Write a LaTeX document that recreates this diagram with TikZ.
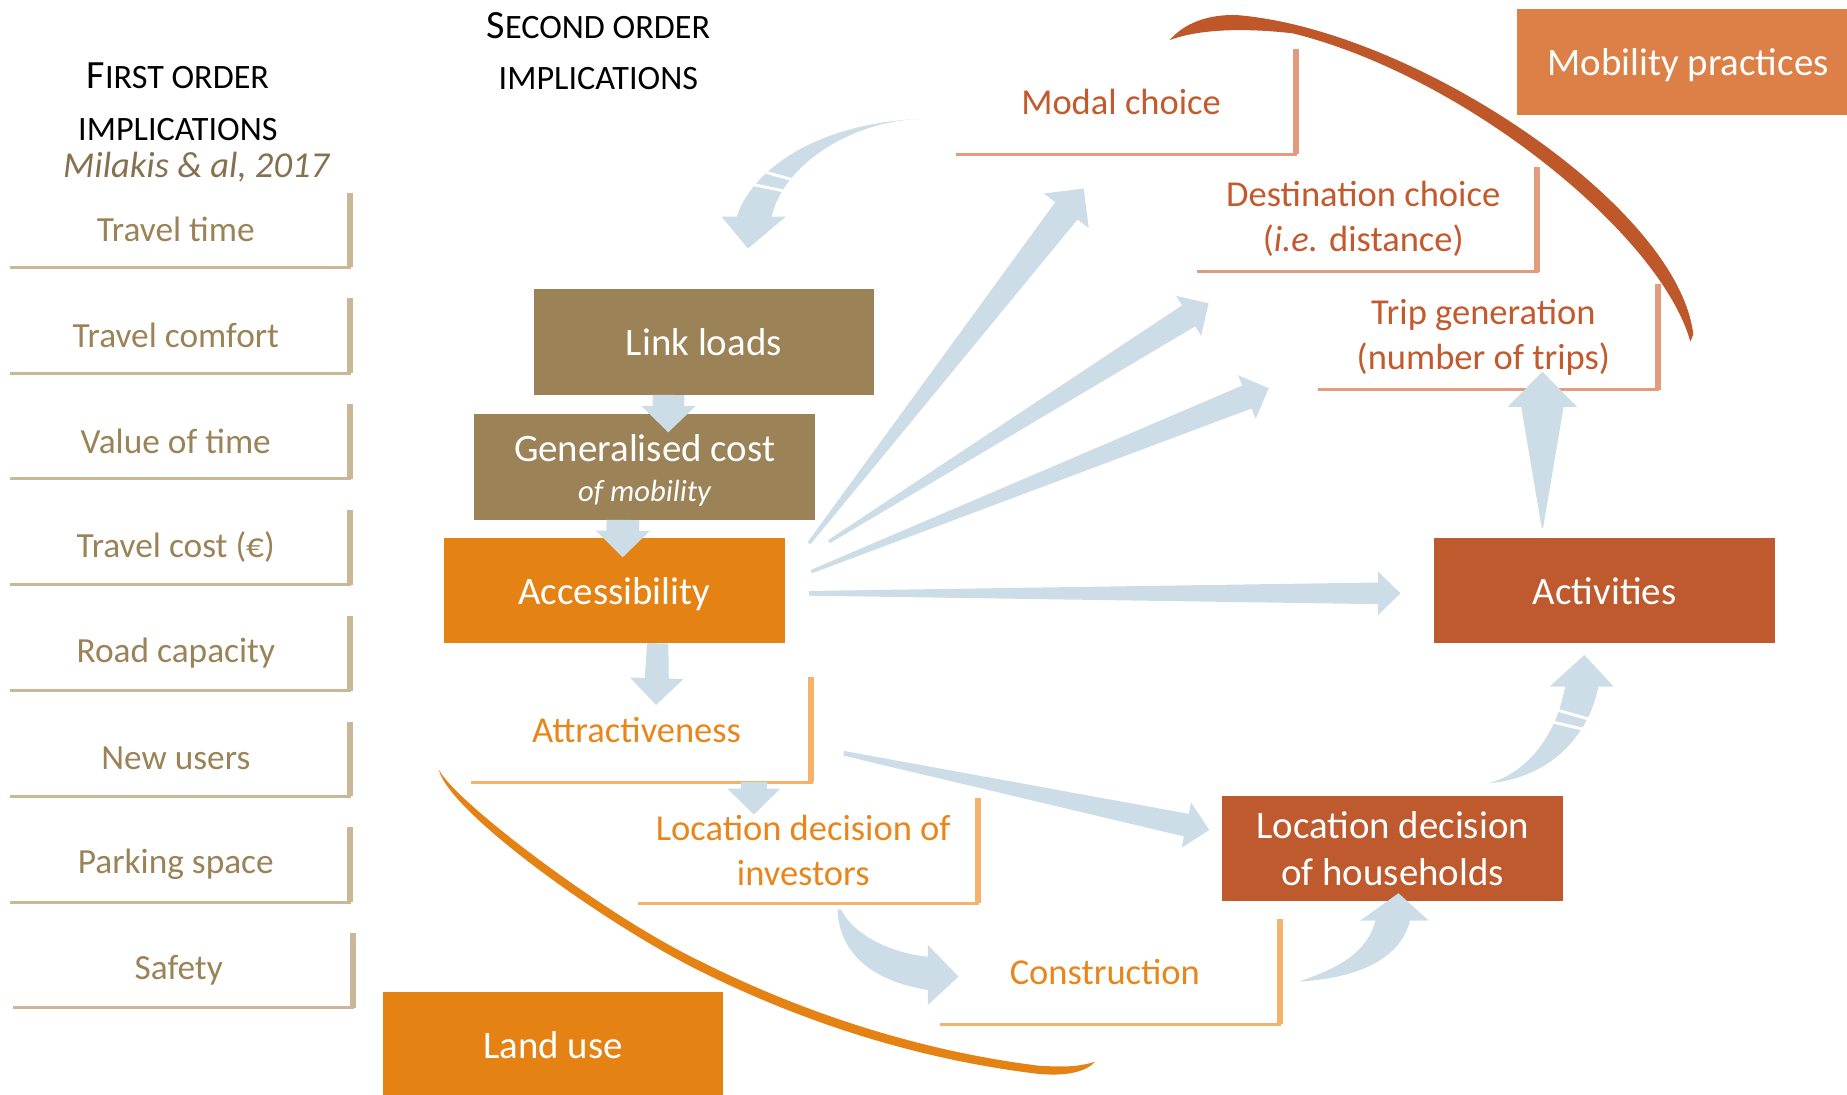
\documentclass[tikz,border=0pt]{standalone}
\usepackage{fontspec}
\setmainfont{Carlito}
\usetikzlibrary{calc}
\definecolor{lefttext}{HTML}{9B8358}
\definecolor{leftline}{HTML}{C9B797}
\definecolor{milcol}{HTML}{85704F}
\definecolor{brownbox}{HTML}{9C8257}
\definecolor{orangebox}{HTML}{E48214}
\definecolor{rustbox}{HTML}{BE5A2E}
\definecolor{mobbox}{HTML}{DD8047}
\definecolor{landtext}{HTML}{E8861C}
\definecolor{landline}{HTML}{F5B26B}
\definecolor{mobtext}{HTML}{C25A2D}
\definecolor{mobline}{HTML}{E29B7C}
\definecolor{arrowblue}{HTML}{CCDDE8}
\definecolor{toparccol}{HTML}{BE582B}
\definecolor{botarccol}{HTML}{E48214}
\newcommand\headsc[2]{{\fontsize{34}{34}\selectfont #1}{\fontsize{29}{29}\selectfont #2}}
\newcommand\openlines[2]{%
  \draw[rline,draw=#2] (#1.north east) -- (#1.south east);
  \draw[bline,draw=#2] (#1.south west) -- (#1.south east);}
\newcommand\tarrow[6]{%
  \coordinate (tmpH) at ($(#2)!#6!(#1)$);
  \fill[barrow] ($(#1)!#3!90:(#2)$) -- ($(tmpH)!#4!90:(#2)$) -- ($(tmpH)!#5!90:(#2)$) -- (#2)
    -- ($(tmpH)!#5!-90:(#2)$) -- ($(tmpH)!#4!-90:(#2)$) -- ($(#1)!#3!-90:(#2)$) -- cycle;}
\begin{document}
\begin{tikzpicture}[x=1pt,y=-1pt,
  leftbox/.style={rectangle,minimum width=287pt,minimum height=63pt,inner sep=0pt},
  lefttxt/.style={text=lefttext,font=\fontsize{30}{36}\selectfont,inner sep=0pt},
  openbox/.style={rectangle,minimum width=287pt,minimum height=89pt,inner sep=0pt},
  landtxt/.style={align=center,text=landtext,font=\fontsize{31}{38}\selectfont,inner sep=0pt},
  mobtxt/.style={align=center,text=mobtext,font=\fontsize{31}{38}\selectfont,inner sep=0pt},
  fillbox/.style={rectangle,minimum width=289pt,minimum height=90pt,inner sep=0pt,align=center,text=white,font=\fontsize{33}{40}\selectfont},
  rline/.style={line width=5pt},
  bline/.style={line width=2.5pt,line cap=rect},
  barrow/.style={fill=arrowblue},
  stripe/.style={draw=white,line width=2.5pt}
]
\useasboundingbox (0,0) rectangle (1568,929);

% ---------- headings
\node[anchor=base,inner sep=0pt] (h1a) at (151,75) {\headsc{F}{IRST ORDER}};
\node[anchor=base,inner sep=0pt] (h1b) at (151,119) {\headsc{}{IMPLICATIONS}};
\node[anchor=base,inner sep=0pt,text=milcol,font=\fontsize{31}{31}\selectfont\itshape] (mil) at (166.5,150.5) {Milakis \& al, 2017};
\node[anchor=base,inner sep=0pt] (h2a) at (508,32.5) {\headsc{S}{ECOND ORDER}};
\node[anchor=base,inner sep=0pt] (h2b) at (508,76.4) {\headsc{}{IMPLICATIONS}};

% ---------- first order boxes
\foreach \i/\t/\dx in {1/Travel time/0,2/Travel comfort/0,3/Value of time/0,4/Travel cost (€)/0,
                       5/Road capacity/0,6/New users/0,7/Parking space/0,8/Safety/2.5}{
  \node[leftbox] (fb\i) at (153.25+\dx,195.3+89.8*\i-89.8) {};
  \node[lefttxt] (ft\i) at ([xshift=-4pt,yshift=0.5pt]fb\i.center) {\t};
  \openlines{fb\i}{leftline}
}

% ---------- open boxes (mobility side)
\node[openbox] (modalbox) at (956.25,86.45) {};
\node[mobtxt] (modal) at ([xshift=-4.5pt]modalbox.center) {Modal choice};
\openlines{modalbox}{mobline}
\node[openbox] (destbox) at (1161.3,186.05) {};
\node[mobtxt] (dest) at ([xshift=-4pt]destbox.center) {Destination choice\\(\textit{i.e.} distance)};
\openlines{destbox}{mobline}
\node[openbox] (tripbox) at (1263.8,286.1) {};
\node[mobtxt] (trip) at ([xshift=-4.5pt]tripbox.center) {Trip generation\\(number of trips)};
\openlines{tripbox}{mobline}

% ---------- open boxes (land use side)
\node[openbox] (attrbox) at (544.85,619.55) {};
\node[landtxt] (attr) at ([xshift=-4.5pt]attrbox.center) {Attractiveness};
\openlines{attrbox}{landline}
\node[openbox] (invbox) at (686.45,722.25) {};
\node[landtxt] (inv) at ([xshift=-4.5pt]invbox.center) {Location decision of\\investors};
\openlines{invbox}{landline}
\node[openbox] (conbox) at (942.95,824.85) {};
\node[landtxt] (con) at ([xshift=-5pt]conbox.center) {Construction};
\openlines{conbox}{landline}

% ---------- filled boxes
\node[fillbox,fill=brownbox] (link) at (597.5,290.5) {Link loads};
\node[fillbox,fill=brownbox] (genbox) at (547.15,396.4) {};
\node[align=center,text=white,inner sep=0pt,font=\fontsize{33}{34}\selectfont] (gen) at ([yshift=-3pt]genbox.center) {Generalised cost\\{\fontsize{26}{30}\selectfont\itshape of mobility}};
\node[fillbox,fill=orangebox,minimum height=89pt,text depth=0pt] (acc) at (521.5,501.5) {Accessibility};
\node[fillbox,fill=orangebox] (land) at (469.5,887) {Land use};
\node[fillbox,fill=rustbox,minimum height=89pt] (house) at (1182.3,720.5) {Location decision\\of households};
\node[fillbox,fill=rustbox,minimum height=89pt] (activ) at (1362.2,501.5) {Activities};
\node[fillbox,fill=mobbox,minimum width=290pt,text depth=0pt] (mob) at (1433,52.6) {Mobility practices};

% ---------- arrow end points
\coordinate (fa0) at (686.8,461.2);  \coordinate (fa1) at (920,160);
\coordinate (fb0) at (703.8,459.8);  \coordinate (fb1) at (1026,257.5);
\coordinate (fc0) at (688.7,485.3);  \coordinate (fc1) at (1077.1,329.6);
\coordinate (fd0) at (686.8,503.7);  \coordinate (fd1) at (1188.9,503.7);
\coordinate (g0) at (716.3,639.5);   \coordinate (g1) at (1026.7,704.6);
\coordinate (h0) at (1309.4,448.5);  \coordinate (h1) at (1309.4,315.5);
\coordinate (d10) at (567.5,335.3);  \coordinate (d11) at (567.3,367);
\coordinate (d20) at (528.8,441.4);  \coordinate (d21) at (528.6,473.1);
\coordinate (d30) at (558.4,546.1);  \coordinate (d31) at (556.9,598.5);
\coordinate (d40) at (640,664);      \coordinate (d41) at (640,691.5);

% ---------- straight block arrows
\tarrow{fa0}{fa1}{1.5pt}{12pt}{24pt}{24pt}
\tarrow{fb0}{fb1}{1.5pt}{10.5pt}{20pt}{20pt}
\tarrow{fc0}{fc1}{1.5pt}{10.5pt}{20pt}{20pt}
\tarrow{fd0}{fd1}{2pt}{9.2pt}{18.5pt}{19pt}
\tarrow{g0}{g1}{2pt}{9.8pt}{19.6pt}{20pt}
\tarrow{h0}{h1}{0.5pt}{18pt}{29.6pt}{30pt}
\tarrow{d10}{d11}{13.5pt}{13.5pt}{23pt}{22.3pt}
\tarrow{d20}{d21}{13.9pt}{13.9pt}{23pt}{22.6pt}
\tarrow{d30}{d31}{9pt}{10.2pt}{22.7pt}{22.7pt}
\tarrow{d40}{d41}{11pt}{11pt}{22.4pt}{22pt}

% ---------- curved arrows
\coordinate (c5t) at (781,101);  \coordinate (c5h) at (635,211);
\fill[barrow] (c5t) .. controls (700,104) and (640,140) .. (625.4,184) -- (612.6,184) -- (c5h) -- (667,184) -- (655,184)
   .. controls (665,140) and (722,103) .. (c5t) -- cycle;
\draw[stripe] (644,144.5) -- (678,154);
\draw[stripe] (636,156) -- (670,163);

\coordinate (c9t) at (1263.5,665);  \coordinate (c9h) at (1345,556);
\fill[barrow] (c9t) .. controls (1320,660) and (1350,620) .. (1356.8,583) -- (1370,583) -- (c9h) -- (1315.4,583) -- (1328.7,583)
   .. controls (1322,620) and (1300,655) .. (c9t) -- cycle;
\draw[stripe] (1312,600) -- (1358,613);
\draw[stripe] (1308,610.5) -- (1354,621.5);

\coordinate (c10t) at (711,772);  \coordinate (c10h) at (813.7,829.1);
\fill[barrow] (c10t) .. controls (712,805) and (735,832) .. (787.7,840.4) -- (787.7,853.1) -- (c10h) -- (787.7,802.2) -- (787.7,812.1)
   .. controls (760,810) and (725,795) .. (714,772) -- cycle;

\coordinate (c11t) at (1102.7,833.3);  \coordinate (c11h) at (1187.2,758.3);
\fill[barrow] (c11t) .. controls (1160,830) and (1190,810) .. (1197,781.6) -- (1213,781.6) -- (c11h) -- (1154.7,781.6) -- (1167.7,781.6)
   .. controls (1160,810) and (1135,822) .. (c11t) -- cycle;

% ---------- arcs
\fill[toparccol] (993,34) .. controls (1005,20) and (1025,12) .. (1050,12.8)
   .. controls (1200,25) and (1425,175) .. (1437.5,284)
   -- (1435,290)
   .. controls (1410,200) and (1245,65) .. (1097.5,28.3)
   .. controls (1060,24) and (1020,24) .. (993,34) -- cycle;
\fill[botarccol] (372.6,653.7) .. controls (382,690) and (512.4,783.4) .. (592.4,823.4)
   .. controls (692.4,873.4) and (790,900.5) .. (880,911.5)
   .. controls (905,914) and (922,910) .. (929.7,901.3)
   .. controls (915,906) and (900,906) .. (880,904.5)
   .. controls (790,893) and (692,865) .. (592.4,815)
   .. controls (512,776) and (386,680) .. (373,654) -- cycle;
\end{tikzpicture}
\end{document}
